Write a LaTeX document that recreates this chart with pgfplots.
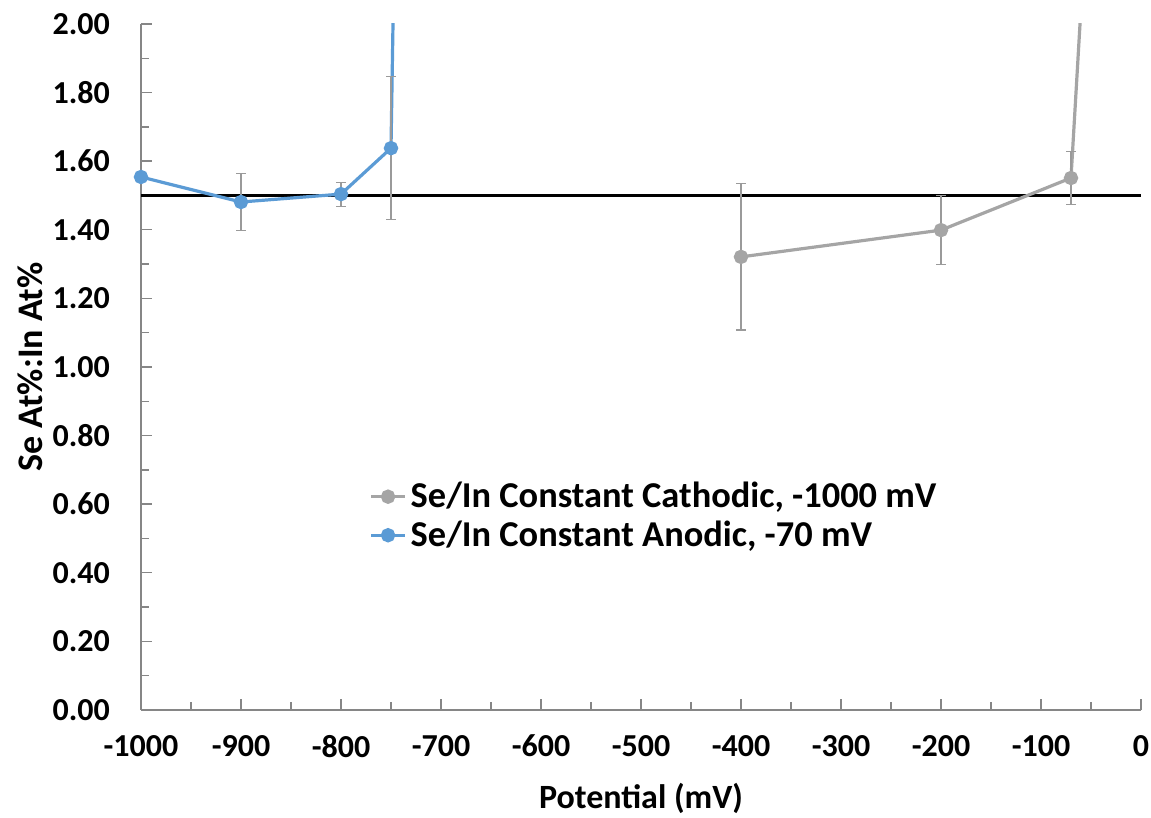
\documentclass[border=0pt]{standalone}
\usepackage{fontspec}
\setmainfont{Carlito}
\usepackage{pgfplots}
\pgfplotsset{compat=1.18}
\usetikzlibrary{calc}
\definecolor{sgray}{HTML}{A5A5A5}
\definecolor{sblue}{HTML}{5B9BD5}
\definecolor{axgray}{HTML}{868686}
\definecolor{ebgray}{HTML}{9A9A9A}
\begin{document}
\begin{tikzpicture}
\begin{axis}[
  scale only axis,
  width=500pt, height=343pt,
  xmin=-1000, xmax=0, ymin=0, ymax=2,
  axis x line=bottom, axis y line=left,
  axis line style={axgray, line width=0.8pt, -},
  xtick={-1000,-900,...,0},
  minor xtick={-950,-850,...,-50},
  ytick={0,0.2,...,2.01},
  minor ytick={0.1,0.3,...,1.91},
  tick align=inside,
  major tick length=5.5pt, minor tick length=4pt,
  tick style={axgray, line width=0.7pt},
  /pgf/number format/assume math mode=true,
  /pgf/number format/1000 sep={},
  xticklabel style={font=\fontsize{16}{18}\selectfont\bfseries, yshift=-9pt},
  yticklabel style={font=\fontsize{16}{18}\selectfont\bfseries, xshift=-12pt,
     /pgf/number format/fixed, /pgf/number format/fixed zerofill, /pgf/number format/precision=2},
  xlabel={Potential (mV)},
  xlabel style={font=\fontsize{17}{19}\selectfont\bfseries, yshift=-6pt},
  ylabel={Se At\%:In At\%},
  ylabel style={font=\fontsize{18}{20}\selectfont\bfseries, yshift=-2pt},
  legend style={draw=none, fill=none, at={(0.222,0.344)}, anchor=north west,
     font=\fontsize{18.2}{20}\selectfont\bfseries, row sep=1pt},
  legend cell align=left,
  error bars/error bar style={ebgray, line width=0.6pt},
  error bars/error mark options={ebgray, line width=0.6pt, rotate=90, mark size=2.3pt},
]
\addplot[black, line width=1.1pt, forget plot] coordinates {(-1000,1.5) (0,1.5)};
\addplot[sgray, line width=1.6pt, mark=*, mark size=2.8pt, mark options={fill=sgray, draw=sgray},
  error bars/.cd, y dir=both, y explicit]
  coordinates {
  (-400,1.321) +- (0,0.213)
  (-200,1.399) +- (0,0.100)
  (-70,1.551) +- (0,0.078)
  (0,5.04) +- (0,0)
  };
\addlegendentry{Se/In Constant Cathodic, -1000 mV}
\addplot[sblue, line width=1.6pt, mark=*, mark size=2.8pt, mark options={fill=sblue, draw=sblue},
  error bars/.cd, y dir=both, y explicit]
  coordinates {
  (-1000,1.554) +- (0,0)
  (-900,1.481) +- (0,0.082)
  (-800,1.504) +- (0,0.035)
  (-750,1.638) +- (0,0.208)
  (-700,10.7) +- (0,0)
  };
\addlegendentry{Se/In Constant Anodic, -70 mV}
\end{axis}
\pgfresetboundingbox
\path ($(current axis.south west)+(-70.5pt,-54pt)$) rectangle ($(current axis.north east)+(5pt,12pt)$);
\end{tikzpicture}
\end{document}
